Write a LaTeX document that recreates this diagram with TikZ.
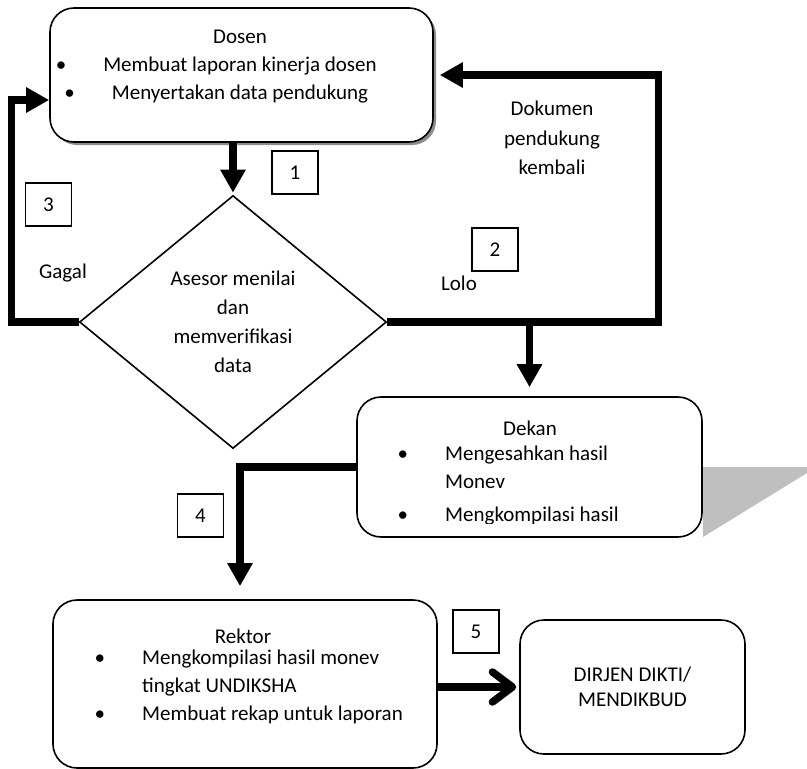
\documentclass[tikz,border=0pt]{standalone}
\usepackage{fontspec}
\setmainfont{Carlito}
\usetikzlibrary{shapes.geometric,arrows.meta,shadows}
\newcommand{\bul}{\llap{\textbullet\hspace{37pt}}}

\begin{document}
\begin{tikzpicture}[x=1pt,y=-1pt,
    every node/.style={font=\fontsize{21}{28}\selectfont},
    roundbox/.style={draw,line width=1.6pt,rounded corners=24pt,fill=white,inner sep=0pt},
    numbox/.style={draw,line width=1.3pt,minimum width=46pt,minimum height=43pt,inner sep=0pt},
    txt/.style={align=center,inner sep=0pt},
    flowarr/.style={line width=7.5pt,-{Triangle[length=23pt,width=24pt]}}]
  \useasboundingbox (0,0) rectangle (807,769);
  % boxes
  \node(dosen)[roundbox,minimum width=383pt,minimum height=134pt,
      drop shadow={shadow xshift=3pt,shadow yshift=-3pt,fill=black!45,opacity=1}] at (241.5,75) {};
  \node(dosentxt)[txt] at (240,67) {Dosen\\ \bul Membuat laporan kinerja dosen\\ \bul Menyertakan data pendukung};
  \node(asesor)[diamond,draw,line width=1.6pt,inner sep=0pt,minimum width=307pt,minimum height=253pt,
      font=\fontsize{21}{29}\selectfont,align=center] at (233,322) {Asesor menilai\\ dan\\ memverifikasi\\ data};
  \fill[black!25] (703,467) -- (807,467) -- (807,473) -- (703,537) -- cycle;
  \node(dekan)[roundbox,minimum width=345pt,minimum height=140pt] at (529.5,467) {};
  \node(dekantitle)[txt] at (530,428) {Dekan};
  \begin{scope}
    \clip (380,440) rectangle (700,488) (380,498) rectangle (700,523);
    \node(dekantxt)[txt,align=left,anchor=west] at (445,486) {\bul Mengesahkan hasil\\ Monev\\[5pt] \bul Mengkompilasi hasil};
  \end{scope}
  \node(rektor)[roundbox,minimum width=384pt,minimum height=168pt] at (245,684) {};
  \node(rektortitle)[txt] at (243,636) {Rektor};
  \node(rektortxt)[txt,align=left,anchor=west] at (142,687) {\bul Mengkompilasi hasil monev\\ tingkat UNDIKSHA\\ \bul Membuat rekap untuk laporan};
  \node(dirjen)[roundbox,minimum width=225pt,minimum height=134pt,
      font=\fontsize{21}{25}\selectfont,align=center] at (632.5,687) {DIRJEN DIKTI/\\ MENDIKBUD};
  % step numbers and labels
  \node(n1)[numbox] at (295,172.5) {1};
  \node(n2)[numbox] at (495,249.5) {2};
  \node(n3)[numbox] at (48.5,204.5) {3};
  \node(n4)[numbox] at (200.5,515.5) {4};
  \node(n5)[numbox] at (476,631.5) {5};
  \node(gagal)[txt] at (63,273) {Gagal};
  \node(lolo)[txt] at (459,283) {Lolo};
  \node(dokumen)[txt,font=\fontsize{21}{29.5}\selectfont] at (552,138) {Dokumen\\ pendukung\\ kembali};
  % connectors
  \draw[flowarr,shorten >=2pt] (asesor.north |- dosen.south) -- (asesor.north);
  \draw[flowarr] (asesor.west) -- ++(-67,0) |- ([yshift=-25pt]dosen.west);
  \draw[flowarr,shorten >=6pt] (asesor.east) -- ++(271,0) |- (dosen.east);
  \draw[flowarr,shorten >=9pt] (dekan.north |- asesor.east) -- (dekan.north);
  \draw[flowarr,shorten >=13pt] (dekan.west) -| ([xshift=-5pt]rektor.north);
  \draw[line width=7.5pt,-{Straight Barb[length=20pt,width=30pt,round]},shorten >=3pt]
      (rektor.east |- dirjen.west) -- (dirjen.west);
\end{tikzpicture}
\end{document}
